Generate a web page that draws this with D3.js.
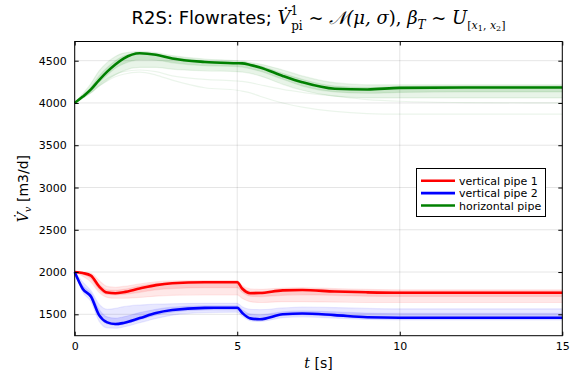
<!DOCTYPE html>
<html>
<head>
<meta charset="utf-8">
<script src="https://cdn.jsdelivr.net/npm/d3@7"></script>
<style>
  body { margin: 0; background: #fff; }
  svg { display: block; }
  text { font-family: "DejaVu Sans", sans-serif; }
</style>
</head>
<body>
<div class="svgContainer"></div>
<script>
// time grid [s]
const tGrid = [0, 0.25, 0.5, 0.75, 1, 1.25, 1.5, 2, 2.5, 3, 4, 5, 5.15, 5.4, 5.7, 6.4, 7, 8, 9, 10, 12, 15];

// vertical pipe 1
const redMean = [2000, 1988, 1958, 1830, 1757, 1750, 1762, 1805, 1845, 1868, 1880, 1880, 1805, 1750, 1752, 1783, 1787, 1770, 1760, 1755, 1755, 1755];
const redHi   = [2000, 1995, 1985, 1900, 1830, 1820, 1830, 1860, 1885, 1895, 1900, 1900, 1840, 1800, 1795, 1810, 1815, 1805, 1795, 1790, 1790, 1790];
const redLo   = [2000, 1950, 1880, 1760, 1700, 1690, 1690, 1700, 1715, 1725, 1730, 1730, 1690, 1650, 1640, 1650, 1650, 1645, 1640, 1640, 1640, 1640];
const redInHi = [2000, 1990, 1965, 1860, 1790, 1785, 1795, 1835, 1865, 1880, 1890, 1890, 1825, 1775, 1772, 1795, 1800, 1790, 1780, 1775, 1775, 1775];
const redInLo = [2000, 1970, 1920, 1790, 1735, 1730, 1735, 1760, 1790, 1805, 1815, 1815, 1760, 1715, 1710, 1725, 1730, 1725, 1715, 1712, 1712, 1712];

// vertical pipe 2
const blueMean = [2000, 1800, 1710, 1490, 1405, 1385, 1398, 1455, 1515, 1550, 1576, 1578, 1518, 1452, 1442, 1500, 1510, 1490, 1465, 1460, 1460, 1460];
const blueHi   = [2000, 1880, 1780, 1620, 1560, 1570, 1590, 1610, 1620, 1625, 1630, 1630, 1590, 1560, 1555, 1575, 1585, 1580, 1570, 1565, 1565, 1565];
const blueLo   = [2000, 1760, 1650, 1420, 1340, 1335, 1350, 1400, 1450, 1490, 1520, 1525, 1480, 1425, 1415, 1460, 1470, 1455, 1440, 1435, 1435, 1435];
const blueInHi = [2000, 1840, 1750, 1560, 1470, 1455, 1470, 1520, 1560, 1585, 1600, 1600, 1555, 1505, 1495, 1530, 1540, 1530, 1515, 1510, 1510, 1510];
const blueInLo = [2000, 1790, 1690, 1470, 1385, 1368, 1380, 1435, 1490, 1525, 1550, 1552, 1500, 1440, 1430, 1485, 1492, 1475, 1455, 1450, 1450, 1450];

// horizontal pipe
const greenMean = [4000, 4075, 4160, 4270, 4370, 4455, 4525, 4588, 4570, 4525, 4485, 4470, 4468, 4450, 4420, 4320, 4245, 4168, 4160, 4178, 4183, 4183];
const greenHi   = [4000, 4110, 4230, 4380, 4480, 4550, 4590, 4610, 4595, 4560, 4520, 4500, 4495, 4480, 4460, 4390, 4320, 4240, 4215, 4215, 4215, 4215];
const greenLo   = [4000, 4060, 4120, 4200, 4270, 4330, 4380, 4420, 4420, 4400, 4380, 4370, 4365, 4350, 4320, 4220, 4150, 4080, 4060, 4060, 4060, 4060];
const greenInHi = [4000, 4090, 4190, 4320, 4420, 4500, 4555, 4595, 4580, 4545, 4500, 4485, 4482, 4465, 4440, 4350, 4280, 4200, 4185, 4195, 4198, 4198];
const greenInLo = [4000, 4070, 4140, 4240, 4330, 4410, 4460, 4510, 4505, 4475, 4440, 4430, 4425, 4405, 4375, 4280, 4200, 4130, 4115, 4125, 4130, 4130];
const greenOut1 = [4000, 4060, 4120, 4200, 4260, 4310, 4340, 4365, 4330, 4270, 4180, 4150, 4140, 4120, 4080, 4000, 3950, 3900, 3875, 3868, 3867, 3867];
const greenOut2 = [4000, 4065, 4130, 4220, 4290, 4340, 4370, 4390, 4370, 4320, 4280, 4260, 4255, 4240, 4215, 4160, 4125, 4080, 4040, 4020, 4005, 4000];

const xTicks = [0, 5, 10, 15];
const yTicks = [1500, 2000, 2500, 3000, 3500, 4000, 4500];
const legendNames = ['vertical pipe 1', 'vertical pipe 2', 'horizontal pipe'];

const width = 574;
const height = 374;
const plotLeft = 74.7, plotRight = 562.3, plotTop = 41.5, plotBottom = 335.7;

const svg = d3.select('.svgContainer').append('svg')
  .attr('width', width)
  .attr('height', height);

const x = d3.scaleLinear().domain([0, 15]).range([plotLeft, plotRight]);
const y = d3.scaleLinear().domain([1247, 4727]).range([plotBottom, plotTop]);

// grid
const grid = svg.append('g').attr('stroke', '#000').attr('stroke-opacity', 0.1).attr('stroke-width', 1);
xTicks.forEach(t => {
  grid.append('line').attr('x1', x(t)).attr('x2', x(t)).attr('y1', plotTop).attr('y2', plotBottom);
});
yTicks.forEach(v => {
  grid.append('line').attr('x1', plotLeft).attr('x2', plotRight).attr('y1', y(v)).attr('y2', y(v));
});

const line = d3.line()
  .x((d, i) => x(tGrid[i]))
  .y(d => y(d))
  .curve(d3.curveMonotoneX);

const band = d3.area()
  .x((d, i) => x(tGrid[i]))
  .y0(d => y(d[0]))
  .y1(d => y(d[1]))
  .curve(d3.curveMonotoneX);

const series = [
  { color: '#ff0000', mean: redMean, outer: [redLo, redHi], inner: [redInLo, redInHi], extra: [] },
  { color: '#0000ff', mean: blueMean, outer: [blueLo, blueHi], inner: [blueInLo, blueInHi], extra: [] },
  { color: '#008000', mean: greenMean, outer: [greenLo, greenHi], inner: [greenInLo, greenInHi], extra: [greenOut1, greenOut2] }
];

const body = svg.append('g').attr('class', 'body');

series.forEach(s => {
  body.append('path')
    .datum(s.outer[0].map((v, i) => [v, s.outer[1][i]]))
    .attr('fill', s.color)
    .attr('fill-opacity', 0.09)
    .attr('d', band);
  body.append('path')
    .datum(s.inner[0].map((v, i) => [v, s.inner[1][i]]))
    .attr('fill', s.color)
    .attr('fill-opacity', 0.13)
    .attr('d', band);
  [s.outer[0], s.outer[1], s.inner[0], s.inner[1]].concat(s.extra).forEach(arr => {
    body.append('path')
      .datum(arr)
      .attr('fill', 'none')
      .attr('stroke', s.color)
      .attr('stroke-opacity', 0.08)
      .attr('stroke-width', 1.2)
      .attr('d', line);
  });
});

series.forEach(s => {
  body.append('path')
    .datum(s.mean)
    .attr('fill', 'none')
    .attr('stroke', s.color)
    .attr('stroke-width', 2.6)
    .attr('d', line);
});

// frame + axes (ticks pointing inward)
svg.append('rect')
  .attr('x', plotLeft).attr('y', plotTop)
  .attr('width', plotRight - plotLeft).attr('height', plotBottom - plotTop)
  .attr('fill', 'none').attr('stroke', '#000').attr('stroke-width', 1);

const xAxis = d3.axisBottom(x).tickValues(xTicks).tickSize(-4).tickPadding(7).tickFormat(d3.format('d'));
const yAxis = d3.axisLeft(y).tickValues(yTicks).tickSize(-4).tickPadding(8).tickFormat(d3.format('d'));

const gx = svg.append('g').attr('transform', 'translate(0,' + plotBottom + ')').call(xAxis);
const gy = svg.append('g').attr('transform', 'translate(' + plotLeft + ',0)').call(yAxis);
svg.append('g').attr('transform', 'translate(0,' + plotTop + ')')
  .call(d3.axisTop(x).tickValues(xTicks).tickSize(-4).tickFormat(''));
svg.append('g').attr('transform', 'translate(' + plotRight + ',0)')
  .call(d3.axisRight(y).tickValues(yTicks).tickSize(-4).tickFormat(''));

svg.selectAll('.domain').remove();
svg.selectAll('.tick line').attr('stroke', '#000');
[gx, gy].forEach(g => g.selectAll('text')
  .attr('font-family', '"DejaVu Sans", sans-serif')
  .attr('font-size', 11)
  .attr('fill', '#000'));

// math pieces: serif, italic unless told otherwise
const SERIF = '"DejaVu Serif", "Liberation Serif", serif';
function piece(parent, txt, opts) {
  opts = opts || {};
  const ts = parent.append('tspan')
    .style('font-family', opts.sans ? '"DejaVu Sans", sans-serif' : SERIF)
    .style('font-style', opts.upright || opts.sans ? 'normal' : 'italic')
    .text(txt);
  if (opts.size) ts.style('font-size', opts.size + 'px');
  if (opts.dy) ts.attr('dy', opts.dy);
  if (opts.dx) ts.attr('dx', opts.dx);
  return ts;
}

// axis labels
const xl = svg.append('text')
  .attr('x', (plotLeft + plotRight) / 2).attr('y', 368)
  .attr('text-anchor', 'middle').attr('font-size', 14);
piece(xl, 't');
piece(xl, ' [s]', { sans: true });

const yl = svg.append('text')
  .attr('transform', 'translate(28,' + ((plotTop + plotBottom) / 2) + ') rotate(-90)')
  .attr('text-anchor', 'middle').attr('font-size', 14);
piece(yl, 'V\u0307');
piece(yl, 'v', { size: 10, dy: 3 });
piece(yl, ' [m3/d]', { sans: true, dy: -3 });

// title
const title = svg.append('text')
  .attr('x', (plotLeft + plotRight) / 2).attr('y', 24)
  .attr('text-anchor', 'middle').attr('font-size', 18);
piece(title, 'R2S: Flowrates; ', { sans: true });
piece(title, 'V\u0307');
piece(title, '1', { upright: true, size: 12, dy: -9 });
piece(title, 'pi', { upright: true, size: 12, dx: -7, dy: 15 });
piece(title, '  ~  ', { upright: true, dy: -6 });
piece(title, '\uD835\uDCA9');
piece(title, '(');
piece(title, 'μ, σ');
piece(title, '), ', { upright: true });
piece(title, 'β');
piece(title, 'T', { size: 12, dy: 5 });
piece(title, '  ~ ', { upright: true, dy: -5 });
piece(title, 'U');
piece(title, '[', { upright: true, size: 11, dy: 5 });
piece(title, 'x', { size: 11 });
piece(title, '1', { upright: true, size: 8, dy: 2 });
piece(title, ', ', { upright: true, size: 11, dy: -2 });
piece(title, 'x', { size: 11 });
piece(title, '2', { upright: true, size: 8, dy: 2 });
piece(title, ']', { upright: true, size: 11, dy: -2 });

// legend
const legend = svg.append('g');
legend.append('rect')
  .attr('x', 416.5).attr('y', 168.5).attr('width', 129).attr('height', 48)
  .attr('fill', '#fff').attr('stroke', '#000').attr('stroke-width', 1);
legendNames.forEach((name, i) => {
  const ly = 180.7 + i * 12.4;
  legend.append('line')
    .attr('x1', 421).attr('x2', 455).attr('y1', ly).attr('y2', ly)
    .attr('stroke', series[i].color).attr('stroke-width', 2.6);
  legend.append('text')
    .attr('x', 459).attr('y', ly + 4)
    .attr('font-size', 11).text(name);
});
</script>
</body>
</html>
